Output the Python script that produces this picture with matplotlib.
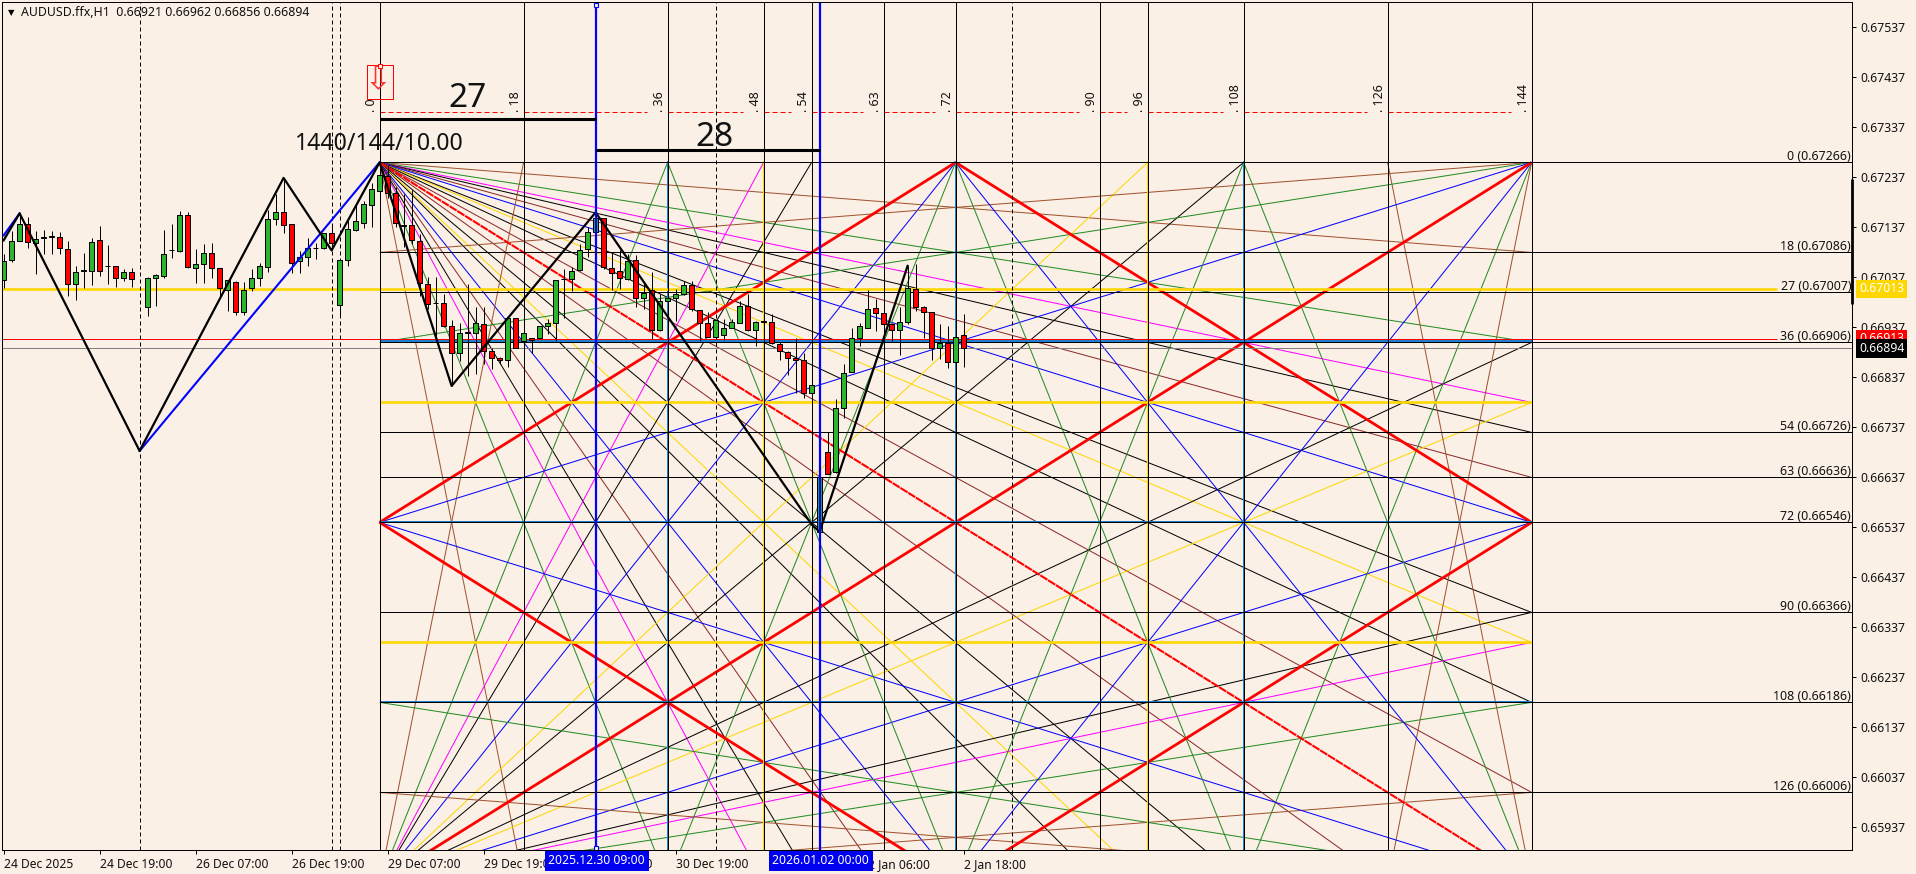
import matplotlib
matplotlib.use('Agg')
from matplotlib import pyplot as plt
from matplotlib.patches import Rectangle
import numpy as np

plt.rcParams['font.family'] = ['Noto Sans', 'DejaVu Sans']

BG = '#FAF0E6'
W, H = 1916, 874

# bar number relative to the first bar of the gann box, prices in points (1e-5)
first_bar = -47
opens = [67030, 67070, 67109, 67143, 67105, 67116, 67117, 67116, 67092, 67022, 67049, 67049, 67110, 67059, 67059, 67034,
         67047, None, 66977, 67034, 67039, 67090, 67089, 67160, 67055, 67062, 67084, 67055, 67010, 67027, 66966, 67014,
         67034, 67057, 67152, 67167, 67142, 67069, 67077, 67094, 67094, 67124, 66981, 67070, 67131, 67145, 67181, 67209,
         67239, 67204, 67141, 67140, 67108, 67022, 66985, 66985, 66938, 66884, 66925, 66925, 66943, 66889, 66874, 66870,
         66954, 66909, 66914, 66914, 66938, 66944, 67032, 67032, 67050, 67092, 67126, 67154, 67054, 67048, 67032, 67071,
         66994, 67010, 66930, 66988, 66994, 67002, 67020, 66970, 66945, 66917, 66920, 66935, 66945, 66978, 66930, 66948,
         66947, 66903, 66886, 66874, 66870, 66804, 66527, 66687, 66647, 66775, 66847, 66915, 66935, 66974, 66965, 66943,
         66930, 66947, 67012, 66976, 66966, 66895, 66905, 66867, 66921]
highs = [67082, 67129, 67162, 67157, 67129, 67130, 67129, 67127, 67109, 67059, 67085, 67115, 67138, 67100, 67059, 67052,
         67055, None, 67037, 67042, 67131, 67143, 67169, 67167, 67092, 67102, 67105, 67055, 67030, 67029, 67027, 67052,
         67065, 67170, 67202, 67235, 67142, 67089, 67114, 67105, 67125, 67142, 67072, 67149, 67181, 67189, 67225, 67262,
         67260, 67216, 67202, 67210, 67122, 67037, 67037, 67002, 66950, 66945, 67022, 66976, 66976, 66895, 66877, 66959,
         66955, 66925, 66914, 66938, 66952, 67030, 67052, 67056, 67102, 67137, 67166, 67155, 67084, 67090, 67082, 67081,
         67022, 67046, 67002, 67002, 67012, 67028, 67029, 66970, 66966, 66950, 66952, 66952, 66989, 67002, 66948, 66949,
         66962, 66906, 66889, 66915, 66885, 66820, 66640, 66726, 66792, 66862, 66935, 66945, 67010, 66992, 66969, 66945,
         66976, 67059, 67062, 66979, 66967, 66942, 66939, 66942, 66962]
lows = [67014, 67067, 67109, 67094, 67043, 67082, 67083, 67082, 66999, 66990, 67014, 67021, 67039, 67022, 67017, 67029,
        67017, None, 66959, 66979, 67035, 67074, 67087, 67055, 67025, 67025, 67035, 66997, 66969, 66961, 66961, 67009,
        67019, 67047, 67141, 67125, 67045, 67045, 67059, 67072, 67092, 67090, 66959, 67059, 67129, 67135, 67137, 67209,
        67195, 67136, 67096, 67102, 66999, 66972, 66919, 66936, 66819, 66869, 66839, 66842, 66862, 66852, 66862, 66857,
        66894, 66892, 66885, 66912, 66923, 66909, 66955, 67008, 67049, 67076, 67122, 67052, 67010, 67012, 67030, 66976,
        66972, 66912, 66929, 66988, 66949, 67001, 66969, 66909, 66916, 66915, 66910, 66935, 66945, 66929, 66899, 66946,
        66903, 66870, 66841, 66805, 66794, 66802, 66527, 66643, 66645, 66755, 66846, 66899, 66935, 66929, 66912, 66909,
        66881, 66943, 66968, 66915, 66870, 66872, 66855, 66865, 66856]
closes = [67069, 67109, 67143, 67106, 67113, 67115, 67118, 67094, 67022, 67047, 67050, 67107, 67049, 67058, 67034, 67046,
          67032, None, 67034, 67040, 67082, 67090, 67160, 67057, 67062, 67084, 67054, 67014, 67030, 66966, 67011, 67035,
          67058, 67152, 67167, 67141, 67065, 67077, 67094, 67094, 67124, 67104, 67070, 67132, 67149, 67182, 67212, 67241,
          67204, 67144, 67138, 67110, 67024, 66982, 66985, 66938, 66884, 66924, 66926, 66945, 66889, 66874, 66870, 66954,
          66895, 66925, 66910, 66938, 66944, 67030, 67032, 67048, 67090, 67126, 67154, 67057, 67044, 67034, 67068, 66994,
          67005, 66930, 66989, 66994, 67002, 67020, 66972, 66945, 66917, 66950, 66935, 66947, 66978, 66930, 66947, 66947,
          66905, 66889, 66874, 66870, 66804, 66820, 66636, 66643, 66775, 66845, 66915, 66938, 66972, 66965, 66943, 66930,
          66947, 67014, 66976, 66966, 66895, 66905, 66867, 66917, 66894]

zigzag_bars = [-47, -45, -30, -12, -6, 0, 9, 27, 54, 55, 66]
zigzag_prices = [0.67110, 0.67164, 0.66689, 0.67235, 0.67090, 0.67266, 0.66819, 0.67166, 0.66542, 0.66527, 0.67059]
blue_zigzag_bars = [-47, -45]
blue_zigzag_prices = [0.67120, 0.67164]
blue_leg_bars = [-30, 0]
blue_leg_prices = [0.66689, 0.67266]

box_top = 0.67266
box_unit = 0.0001
box_size = 144
right_levels = [0, 18, 27, 36, 54, 63, 72, 90, 108, 126]
right_prices = [0.67266, 0.67086, 0.67007, 0.66906, 0.66726, 0.66636, 0.66546, 0.66366, 0.66186, 0.66006]
vert_levels = [0, 18, 36, 48, 54, 63, 72, 90, 96, 108, 126, 144]
yellow_levels = [48, 96]
fan_colors = {18: '#A0522D', 36: '#228B22', 48: '#FF00FF', 54: '#000000', 63: '#8B2A2A', 72: '#0000FF',
              90: '#000000', 96: '#FFD700', 108: '#000000', 126: '#8B2A2A'}
falling_fan = [18, 36, 48, 54, 63, 72, 90, 96, 108, 126]
rising_fan = [18, 36, 48, 54, 72, 96, 108]
reduced_fan = [18, 36, 72]
peak_lines = [(36, 0, 72, 144), (108, 0, 72, 144)]

y_ticks = [0.67537, 0.67437, 0.67337, 0.67237, 0.67137, 0.67037, 0.66937, 0.66837, 0.66737, 0.66637, 0.66537,
           0.66437, 0.66337, 0.66237, 0.66137, 0.66037, 0.65937]
x_ticks = [-47, -35, -23, -11, 1, 13, 25, 37, 49, 61, 73]
x_labels = ['24 Dec 2025', '24 Dec 19:00', '26 Dec 07:00', '26 Dec 19:00', '29 Dec 07:00', '29 Dec 19:00',
            '30 Dec 07:00', '30 Dec 19:00', '31 Dec 07:00', '2 Jan 06:00', '2 Jan 18:00']
dashed_bars = [-30, -6, -5, 42, 79]
blue_vlines = [27, 55]
blue_labels = ['2025.12.30 09:00', '2026.01.02 00:00']
price_tags = [(0.67013, '#FFD700', 'white'), (0.66913, '#FF0000', 'white'), (0.66894, '#000000', 'white')]


def lv(level):
    return box_top - level * box_unit


x0_px = 379.6
bar_px = 8.0
px_price = 0.00002


def x_of(px):
    return (px - x0_px) / bar_px


def y_of(px):
    return box_top - (px - 162.4) * px_price


fig = plt.figure(figsize=(W / 100, H / 100), dpi=100, facecolor=BG)
ax = fig.add_axes([2 / W, 1 - 850 / H, 1850 / W, 848 / H], facecolor=BG)
xmin, xmax = x_of(2), x_of(1852)
ax.set_xlim(xmin, xmax)
ax.set_ylim(y_of(850), y_of(2))
thin = 0.72
blue_grid = '#1E7FD0'


def seg(xs, ys, color, lw=thin, z=2, **kw):
    ax.plot(xs, ys, color=color, lw=lw, zorder=z, solid_capstyle='butt', **kw)


# gann fans
for d in falling_fan:
    seg([0, box_size], [lv(0), lv(d)], fan_colors[d])
    seg([0, d], [lv(0), lv(box_size)], fan_colors[d])
for d in rising_fan:
    seg([0, box_size], [lv(box_size), lv(box_size - d)], fan_colors[d])
    seg([0, d], [lv(box_size), lv(0)], fan_colors[d])
for d in reduced_fan:
    seg([box_size, 0], [lv(0), lv(d)], fan_colors[d])
    seg([box_size, box_size - d], [lv(0), lv(box_size)], fan_colors[d])
    seg([box_size, 0], [lv(box_size), lv(box_size - d)], fan_colors[d])
    seg([box_size, box_size - d], [lv(box_size), lv(0)], fan_colors[d])
for x1, l1, x2, l2 in peak_lines:
    seg([x1, x2], [lv(l1), lv(l2)], fan_colors[36])
    seg([x1, x2], [lv(144 - l1), lv(144 - l2)], fan_colors[36])

# red diamond and the two main diagonals
seg([0, box_size], [lv(0), lv(box_size)], '#FF0000', lw=1.5, ls=(0, (4, 0.4)))
seg([0, box_size], [lv(box_size), lv(0)], '#FF0000', lw=2.0)
seg([0, 72, 144, 72, 0], [lv(72), lv(0), lv(72), lv(144), lv(72)], '#FF0000', lw=2.0)

# verticals
for v in vert_levels:
    if v in (36, 72, 108):
        ax.plot([v + 0.06, v + 0.06], [lv(0), lv(144)], color=blue_grid, lw=1.44, zorder=3)
    if v in (48, 96):
        ax.plot([v + 0.06, v + 0.06], [lv(0), lv(144)], color='#FFD700', lw=1.44, zorder=3)
    ax.axvline(v, color='black', lw=thin, zorder=3.1)
for b in dashed_bars:
    ax.axvline(b, color='black', lw=thin, ls=(0, (4, 3)), zorder=3.1)

# horizontals
for lev, price in zip(right_levels, right_prices):
    ax.hlines(price, 0, xmax, color='black', lw=thin, zorder=3.1)
    ax.text(xmax - 0.1, price - 0.00002, '%d (%.5f)' % (lev, price), ha='right', va='bottom', fontsize=8.9,
            color='#111111', zorder=6)
for lev in yellow_levels:
    ax.hlines(lv(lev), 0, box_size, color='#FFD700', lw=1.9, zorder=3)
ax.hlines(lv(36) + 0.00002, 0, box_size, color=blue_grid, lw=1.44, zorder=3)
ax.hlines(lv(72) + 0.00002, 0, box_size, color=blue_grid, lw=thin, zorder=3)
ax.hlines(lv(108) + 0.00002, 0, box_size, color=blue_grid, lw=thin, zorder=3)
ax.hlines(0.67013, xmin, x_of(1777), color='#FFD700', lw=1.9, zorder=3)
ax.hlines(0.66913, xmin, x_of(1777), color='#FF0000', lw=thin, zorder=3)
ax.hlines(0.66894, xmin, xmax, color='#808080', lw=thin, zorder=3)

# candles
bars = np.arange(first_bar, first_bar + len(opens))
for b, o, h, l, c in zip(bars, opens, highs, lows, closes):
    if o is None:
        continue
    ax.vlines(b, l / 1e5, h / 1e5, color='black', lw=thin, zorder=4)
    fill = '#2DB52D' if c >= o else '#FF0000'
    ax.bar(b, abs(c - o) / 1e5, bottom=min(o, c) / 1e5, width=0.55, color=fill, edgecolor='black', lw=thin, zorder=5)

# zigzags
ax.plot(blue_zigzag_bars, blue_zigzag_prices, color='#0000FF', lw=1.5, zorder=6)
ax.plot(blue_leg_bars, blue_leg_prices, color='#0000FF', lw=1.5, zorder=6)
ax.plot(zigzag_bars, zigzag_prices, color='black', lw=1.6, zorder=6)

# blue marker lines and their bars
for v in blue_vlines:
    ax.axvline(v, color='#0000FF', lw=1.6, zorder=6)
ax.plot([27, 27], [y_of(5), y_of(848)], ls='none', marker='s', ms=3.5, mfc=BG, mec='#0000FF', mew=0.8, zorder=7,
        clip_on=False)
ax.hlines(y_of(119), 0, 27, color='black', lw=2.2, zorder=6)
ax.hlines(y_of(150), 27, 55, color='black', lw=2.2, zorder=6)
ax.text(11, y_of(107), '27', ha='center', va='baseline', fontsize=24, color='#111111', zorder=7)
ax.text(41.9, y_of(146), '28', ha='center', va='baseline', fontsize=24, color='#111111', zorder=7)
ax.text(0, y_of(150), '1440/144/10.00', ha='center', va='baseline', fontsize=16.6, color='#111111', zorder=7)

# dashed row above the box with the rotated level numbers
for v1, v2 in zip(vert_levels[:-1], vert_levels[1:]):
    ax.hlines(y_of(112), v1, v2 - 2.6, color='#FF0000', lw=thin, ls=(0, (5, 3)), zorder=3)
for v in vert_levels:
    ax.text(v - 1.0, y_of(112), '. %d' % v, rotation=90, ha='center', va='bottom', fontsize=9, color='#111111',
            zorder=7)

# arrow object
ax.add_patch(Rectangle((x_of(366.5), y_of(99)), x_of(392.6) - x_of(366.5), y_of(65) - y_of(99), fill=False,
                       edgecolor='#FF0000', lw=0.72, zorder=7))
ax.text(x_of(378), y_of(81), '\u21e9', ha='center', va='center', fontsize=23, color='#FF3030',
        family='DejaVu Sans', zorder=7)
ax.plot([0], [y_of(66)], ls='none', marker='s', ms=3.2, mfc=BG, mec='#FF0000', mew=0.7, zorder=7)

# header
ax.text(x_of(8), y_of(13), '\u25bc', ha='left', va='center', fontsize=6, color='black', family='DejaVu Sans', zorder=7)
ax.text(x_of(21), y_of(13), 'AUDUSD.ffx,H1  0.66921 0.66962 0.66856 0.66894', ha='left', va='center', fontsize=8.9,
        color='#111111', zorder=7)

# axes
for s in ax.spines.values():
    s.set_linewidth(0.72)
    s.set_color('black')
    s.set_zorder(8)
ax.yaxis.tick_right()
ax.set_yticks(y_ticks)
ax.set_yticklabels(['%.5f' % t for t in y_ticks])
ax.tick_params(axis='y', length=3, width=0.72, pad=3, labelsize=8.8, labelcolor='#111111')
ax.set_xticks(x_ticks)
ax.set_xticklabels(x_labels, ha='left')
ax.tick_params(axis='x', length=3, width=0.72, pad=3, labelsize=8.7, labelcolor='#111111')

# blue time labels over the axis and coloured price tags
for v, txt in zip(blue_vlines, blue_labels):
    ax.text(v + 0.15, y_of(861), txt, ha='center', va='center', fontsize=8.8, color='white', clip_on=False, zorder=9,
            bbox=dict(boxstyle='square,pad=0.3', fc='#0000F0', ec='none'))
for price, fc, tc in price_tags:
    ax.text(x_of(1859), price, '%.5f' % price, ha='left', va='center', fontsize=8.8, color=tc, clip_on=False, zorder=9,
            bbox=dict(boxstyle='square,pad=0.22', fc=fc, ec='none'))
ax.plot([xmax, xmax], [y_of(179), y_of(304)], color='black', lw=2.0, zorder=9, clip_on=False, solid_capstyle='butt')

fig.savefig('out.png', dpi=100, facecolor=BG)
